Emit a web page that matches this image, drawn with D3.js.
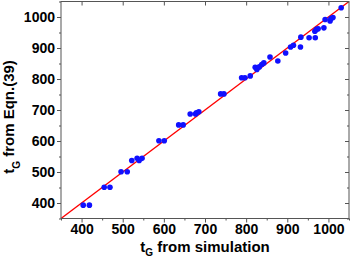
<!DOCTYPE html>
<html>
<head>
<meta charset="utf-8">
<script src="https://d3js.org/d3.v7.min.js"></script>
<style>
  body { margin: 0; background: #fff; }
  svg text { font-family: "Liberation Sans", Arial, sans-serif; font-weight: bold; fill: #000; }
</style>
</head>
<body>
<div id="chart"></div>
<script>
// values
var simX = [404, 419, 455, 469, 496, 511, 522, 535, 540, 547, 588, 601, 636, 647, 664, 677, 679, 685,
  738, 746, 789, 797, 810, 822, 826, 832, 838, 843, 858, 877, 896, 908, 915, 932, 933, 953, 968,
  967, 971, 975, 989, 992, 1004, 1006, 1011, 1031];
var eqnY = [393, 393, 451, 451, 501, 501, 537, 544, 537, 544, 601, 601, 652, 652, 687, 687, 691, 694,
  752, 752, 804, 804, 810, 838, 831, 839, 847, 852, 871, 858, 884, 903, 909, 903, 935, 933, 933,
  954, 960, 962, 965, 992, 987, 995, 998, 1030];
var fitLine = [350, 1050];
var tickVals = [400, 500, 600, 700, 800, 900, 1000];
var minorVals = [350, 450, 550, 650, 750, 850, 950, 1050];

var width = 351, height = 257;
var margin = { top: 1.5, right: 2, bottom: 38.5, left: 61 };
var w = width - margin.left - margin.right;
var h = height - margin.top - margin.bottom;

var svg = d3.select("#chart").append("svg")
  .attr("width", width)
  .attr("height", height);
var g = svg.append("g").attr("transform", `translate(${margin.left},${margin.top})`);

var x = d3.scaleLinear().domain([350, 1050]).range([0, w]);
var y = d3.scaleLinear().domain([350, 1050]).range([h, 0]);

var axisColor = "#555";
var fmt = d3.format("d");

// fit line y = x
g.append("line")
  .attr("x1", x(fitLine[0])).attr("y1", y(fitLine[0]))
  .attr("x2", x(fitLine[1])).attr("y2", y(fitLine[1]))
  .attr("stroke", "#ff0000").attr("stroke-width", 1.4);

// points
g.selectAll("circle").data(simX).join("circle")
  .attr("cx", d => x(d))
  .attr("cy", (d, i) => y(eqnY[i]))
  .attr("r", 2.8)
  .attr("fill", "#1010ff");

// axes
function styleAxis(sel) {
  sel.select(".domain").remove();
  sel.selectAll("line").attr("stroke", axisColor);
  sel.selectAll("text").style("font-size", "14px");
}

g.append("g").attr("transform", `translate(0,${h})`)
  .call(d3.axisBottom(x).tickValues(tickVals).tickSize(4).tickPadding(2).tickFormat(fmt))
  .call(styleAxis);
g.append("g").attr("transform", `translate(0,${h})`)
  .call(d3.axisBottom(x).tickValues(minorVals).tickSize(2).tickFormat(""))
  .call(styleAxis);

g.append("g")
  .call(d3.axisLeft(y).tickValues(tickVals).tickSize(4).tickPadding(2).tickFormat(fmt))
  .call(styleAxis);
g.append("g")
  .call(d3.axisLeft(y).tickValues(minorVals).tickSize(2).tickFormat(""))
  .call(styleAxis);

g.append("g")
  .call(d3.axisBottom(x).tickValues(tickVals).tickSize(4).tickFormat(""))
  .call(styleAxis);
g.append("g").attr("transform", `translate(${w},0)`)
  .call(d3.axisRight(y).tickValues(tickVals).tickSize(4).tickFormat(""))
  .call(styleAxis)
  .selectAll("line").attr("x2", -4);
g.append("g").attr("transform", `translate(${w},0)`)
  .call(d3.axisRight(y).tickValues(minorVals).tickSize(2).tickFormat(""))
  .call(styleAxis)
  .selectAll("line").attr("x2", -2);

// frame
g.append("rect")
  .attr("width", w).attr("height", h)
  .attr("fill", "none").attr("stroke", axisColor).attr("stroke-width", 1);

// axis titles
var xt = svg.append("text")
  .attr("x", margin.left + w / 2).attr("y", 252)
  .attr("text-anchor", "middle").style("font-size", "15px");
xt.append("tspan").text("t");
xt.append("tspan").attr("dy", 4).style("font-size", "10px").text("G");
xt.append("tspan").attr("dy", -4).text(" from simulation");

var yt = svg.append("text")
  .attr("transform", "translate(14,117) rotate(-90)")
  .attr("text-anchor", "middle").style("font-size", "15px");
yt.append("tspan").text("t");
yt.append("tspan").attr("dy", 6).style("font-size", "10px").text("G");
yt.append("tspan").attr("dy", -6).text(" from Eqn.(39)");
</script>
</body>
</html>
